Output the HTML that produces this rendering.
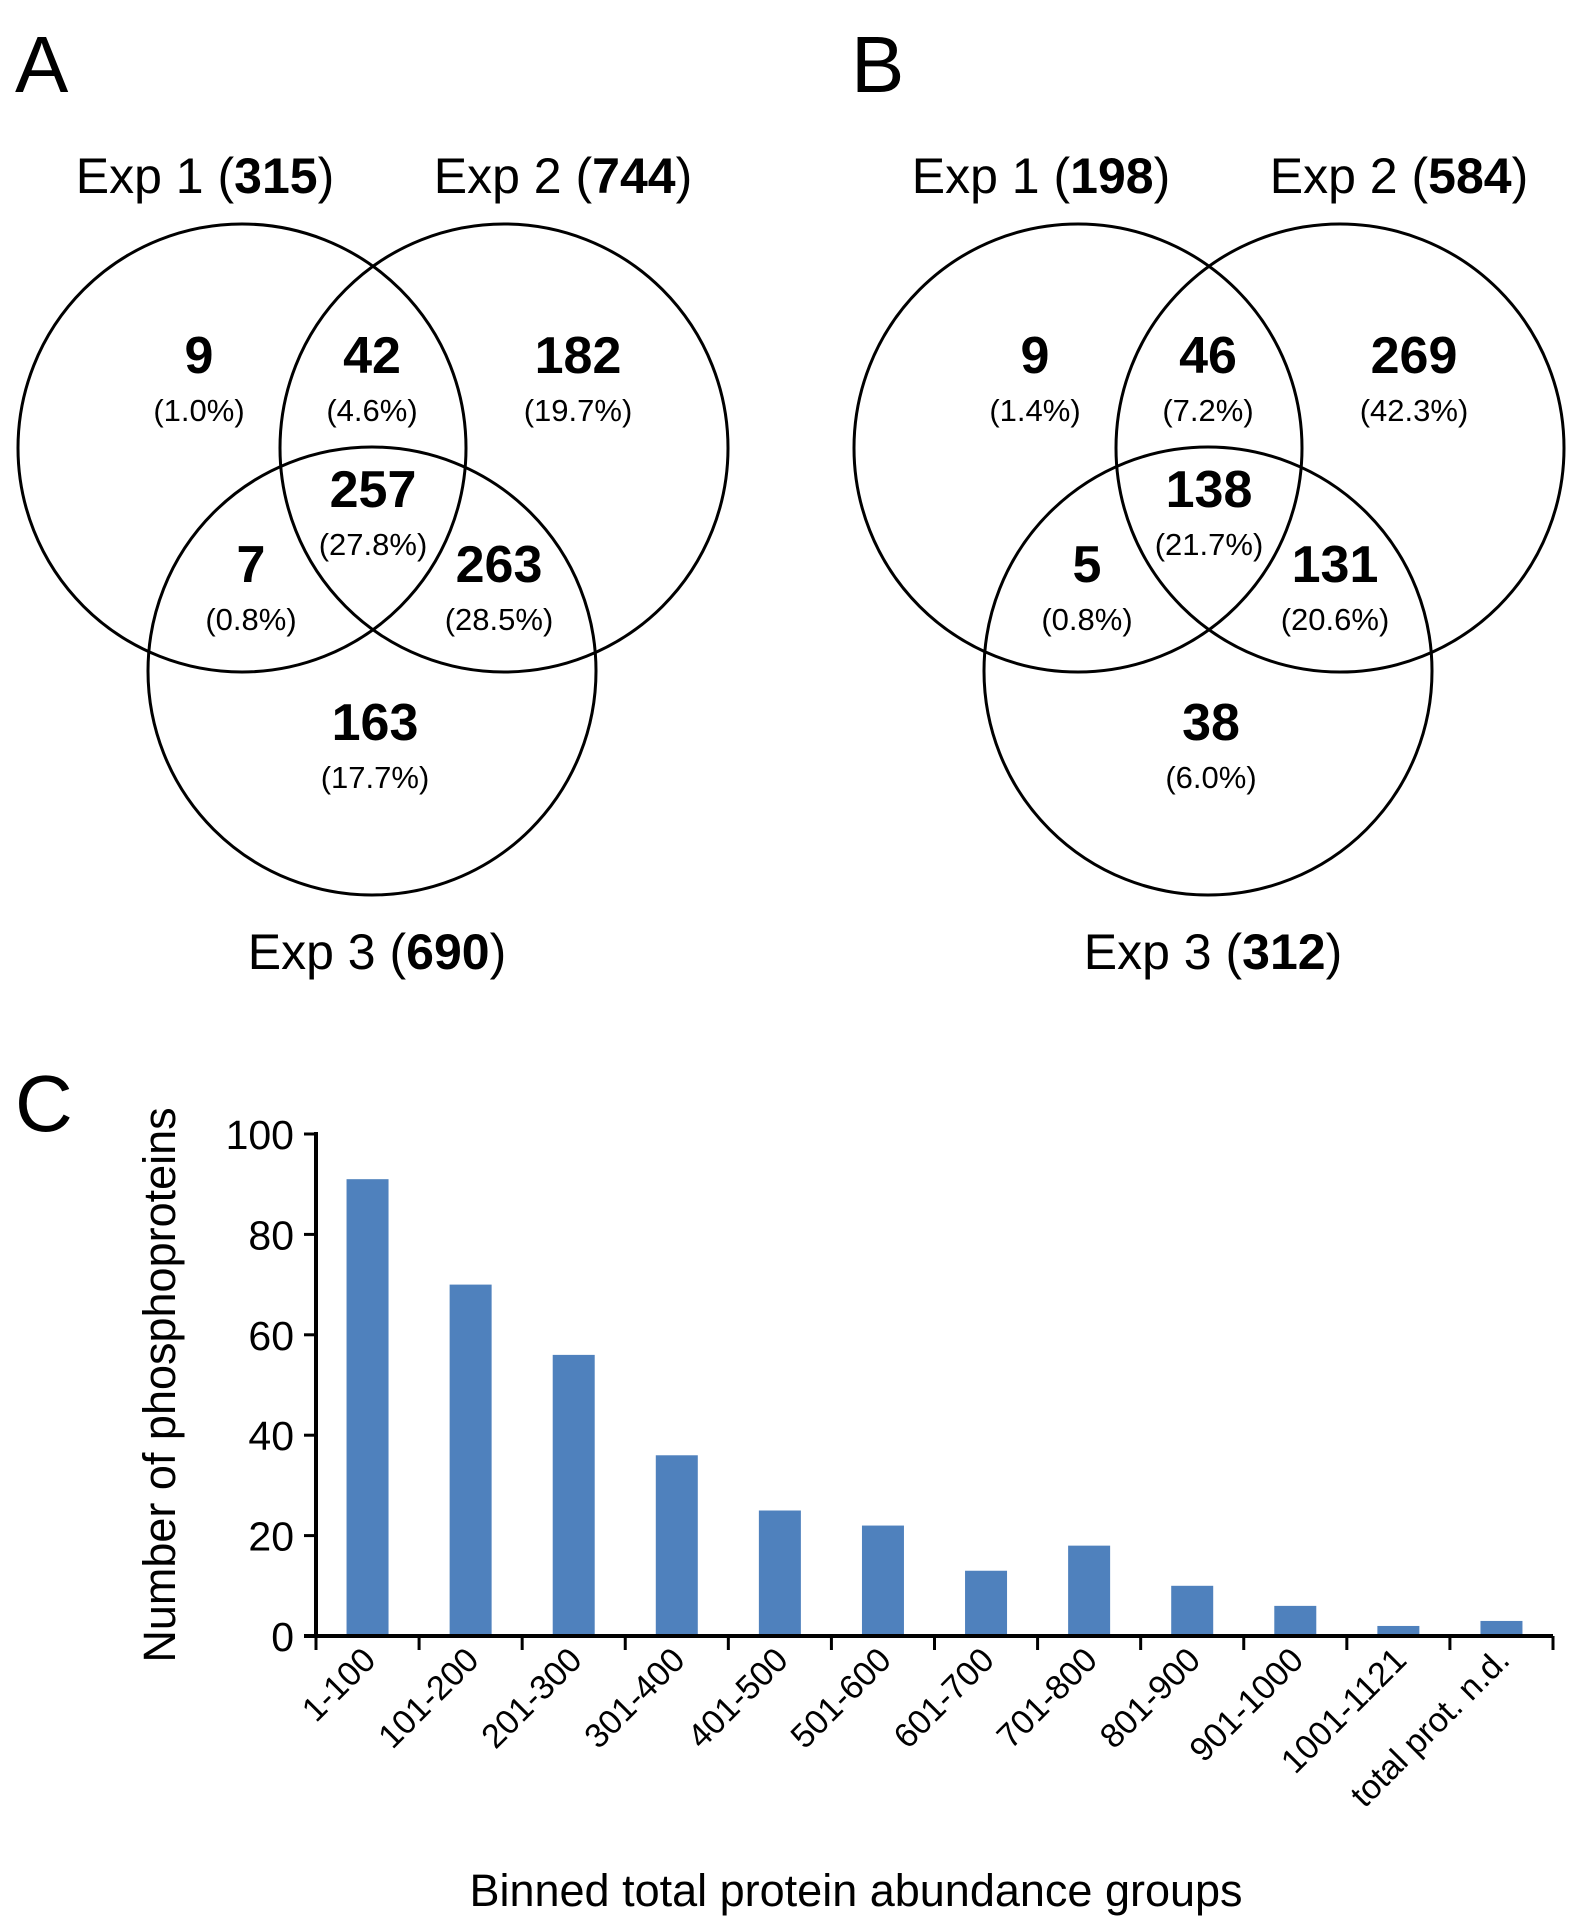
<!DOCTYPE html>
<html><head><meta charset="utf-8"><style>
html,body{margin:0;padding:0;background:#fff}
svg{display:block;font-family:"Liberation Sans",Arial,sans-serif}
</style></head><body>
<svg id="fig" width="1590" height="1921" viewBox="0 0 1590 1921">
<g id="venns"></g>
<g id="chart"></g>
</svg>
<script>
const NS='http://www.w3.org/2000/svg';
function mk(tag,attrs,parent,txt){const e=document.createElementNS(NS,tag);for(const k in attrs)e.setAttribute(k,attrs[k]);if(txt!==undefined)e.textContent=txt;parent.appendChild(e);return e;}
const venns=document.getElementById('venns');
const vennA_counts=['9','42','182','257','7','263','163'];
const vennA_pcts=['(1.0%)','(4.6%)','(19.7%)','(27.8%)','(0.8%)','(28.5%)','(17.7%)'];
const vennA_totals=['315','744','690'];
const vennB_counts=['9','46','269','138','5','131','38'];
const vennB_pcts=['(1.4%)','(7.2%)','(42.3%)','(21.7%)','(0.8%)','(20.6%)','(6.0%)'];
const vennB_totals=['198','584','312'];
const regionPos=[[199,373],[372,373],[578,373],[373,507],[251,582],[499,582],[375,740]];
function venn(ox,label,counts,pcts,totals,name){
  const g=mk('g',{},venns);
  
  
  const L=mk('text',{x:ox+15,y:92,'font-size':80},g,label);
  
  
  const cs=[[242,448],[504,448],[372,671]];
  cs.forEach((c,i)=>{const e=mk('circle',{cx:c[0]+ox,cy:c[1],r:224,fill:'none',stroke:'#000','stroke-width':3},g);
    
    });
  const tp=[[205,193],[563,193],[377,969]];
  tp.forEach((p,i)=>{const t=mk('text',{x:p[0]+ox,y:p[1],'font-size':50,'text-anchor':'middle'},g);
    
    
    mk('tspan',{},t,'Exp '+(i+1)+' (');mk('tspan',{'font-weight':'bold'},t,totals[i]);mk('tspan',{},t,')');});
  regionPos.forEach((p,i)=>{
    const a=mk('text',{x:p[0]+ox,y:p[1],'font-size':52,'font-weight':'bold','text-anchor':'middle'},g,counts[i]);
    
    
    const b=mk('text',{x:p[0]+ox,y:p[1]+48,'font-size':31,'text-anchor':'middle'},g,pcts[i]);
    
    
  });
}
venn(0,'A',vennA_counts,vennA_pcts,vennA_totals,'venn-a');
venn(836,'B',vennB_counts,vennB_pcts,vennB_totals,'venn-b');

const categories=['1-100','101-200','201-300','301-400','401-500','501-600','601-700','701-800','801-900','901-1000','1001-1121','total prot. n.d.'];
const values=[91,70,56,36,25,22,13,18,10,6,2,3];
const yTicks=[0,20,40,60,80,100];
const chart=document.getElementById('chart');
const X0=316,X1=1553,Y0=1636,Y1=1134,YMAX=100;
const bw=(X1-X0)/categories.length;
const yS=v=>Y0-(v/YMAX)*(Y0-Y1);
const xC=i=>X0+bw*(i+0.5);
const C=mk('text',{x:15,y:1131,'font-size':80},chart,'C');


values.forEach((v,i)=>{const r=mk('rect',{x:xC(i)-21,y:yS(v),width:42,height:Y0-yS(v),fill:'#4f81bd'},chart);
  
  });
const ya=mk('line',{x1:X0,y1:Y1-2,x2:X0,y2:Y0+2,stroke:'#000','stroke-width':4},chart);


const xa=mk('line',{x1:X0-12,y1:Y0,x2:X1,y2:Y0,stroke:'#000','stroke-width':4},chart);


yTicks.forEach(t=>{mk('line',{x1:X0-12,y1:yS(t),x2:X0,y2:yS(t),stroke:'#000','stroke-width':3},chart);
  const l=mk('text',{x:X0-22,y:yS(t)+15,'font-size':41,'text-anchor':'end'},chart,t);
  
  });
for(let i=0;i<=categories.length;i++){mk('line',{x1:X0+bw*i,y1:Y0,x2:X0+bw*i,y2:Y0+14,stroke:'#000','stroke-width':3},chart);}
categories.forEach((c,i)=>{const x=xC(i)+10,y=Y0+26;
  const l=mk('text',{x:x,y:y,'font-size':34,'text-anchor':'end',transform:`rotate(-45 ${x} ${y})`},chart,c);
  
  });
const yt=mk('text',{x:0,y:0,'font-size':45,'text-anchor':'middle',transform:'translate(175,1385) rotate(-90)'},chart,'Number of phosphoproteins');


const xt=mk('text',{x:856,y:1906,'font-size':45,'text-anchor':'middle'},chart,'Binned total protein abundance groups');


</script>
</body></html>
